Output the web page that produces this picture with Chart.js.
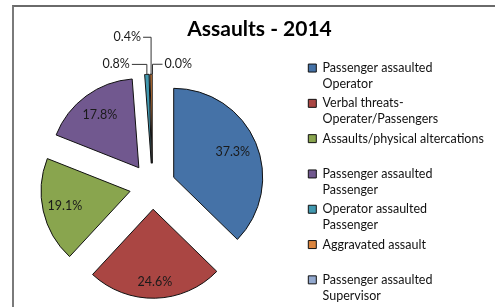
<!DOCTYPE html>
<html>
<head>
<meta charset="utf-8">
<script src="https://cdn.jsdelivr.net/npm/chart.js@4"></script>
<style>
  html, body { margin: 0; padding: 0; background: #fff; overflow: hidden; }
  #frame {
    position: absolute; left: 12px; top: 5px; width: 520px; height: 320px;
    border-top: 2px solid #6a6a6a; border-left: 2px solid #7a7a7a;
  }
  #wrap { position: absolute; left: 0; top: 0; width: 522px; height: 314px; }
</style>
</head>
<body>
<div id="frame"></div>
<div id="wrap"><canvas id="pie-chart"></canvas></div>
<script>
const categories = [
    ["Passenger assaulted", "Operator"],
    ["Verbal threats-", "Operater/Passengers"],
    ["Assaults/physical altercations", ""],
    ["Passenger assaulted", "Passenger"],
    ["Operator assaulted", "Passenger"],
    ["Aggravated assault", ""],
    ["Passenger assaulted", "Supervisor"],
];
const shares = [37.3, 24.6, 19.1, 17.8, 0.8, 0.4, 0.0];
const colors = ["#4572a7", "#aa4643", "#89a54e", "#71588f", "#4198af", "#db843d", "#93a9cf"];

const explode = 23;

// pull every slice away from the centre, like the exploded excel pie
const explodePlugin = {
    id: "explode",
    beforeDatasetDraw(chart, args) {
        const ctx = chart.ctx;
        args.meta.data.forEach((arc) => {
            const mid = (arc.startAngle + arc.endAngle) / 2;
            ctx.save();
            ctx.translate(Math.cos(mid) * explode, Math.sin(mid) * explode);
            arc.draw(ctx, chart.chartArea);
            ctx.restore();
        });
        return false;
    },
};

// percentage labels, with leader lines for the thin slices
const labelPlugin = {
    id: "pctLabels",
    afterDatasetsDraw(chart) {
        const ctx = chart.ctx;
        const meta = chart.getDatasetMeta(0);
        const inside = [0.72, 0.82, 0.75, 0.74];
        const leaders = {
            4: { dx: -13, dy: -10, align: "right" },
            5: { dx: -6, dy: -37, align: "right" },
            6: { dx: 8, dy: -10, align: "left" },
        };
        ctx.save();
        ctx.font = "12.5px Lato";
        ctx.fillStyle = "#1a1a1a";
        ctx.textBaseline = "middle";
        meta.data.forEach((arc, i) => {
            const mid = (arc.startAngle + arc.endAngle) / 2;
            const cx = arc.x + Math.cos(mid) * explode;
            const cy = arc.y + Math.sin(mid) * explode;
            const r = arc.outerRadius;
            const text = shares[i].toFixed(1) + "%";
            if (i < inside.length) {
                ctx.textAlign = "center";
                ctx.fillText(text, cx + Math.cos(mid) * r * inside[i], cy + Math.sin(mid) * r * inside[i]);
                return;
            }
            const l = leaders[i];
            const px = cx + Math.cos(mid) * r;
            const py = cy + Math.sin(mid) * r;
            const ey = py + l.dy;
            const tx = px + l.dx;
            ctx.strokeStyle = "#333";
            ctx.lineWidth = 1;
            ctx.beginPath();
            ctx.moveTo(px, py);
            ctx.lineTo(px, ey);
            ctx.lineTo(tx + (l.align === "right" ? -2 : 2), ey);
            ctx.stroke();
            ctx.textAlign = l.align;
            ctx.fillText(text, tx + (l.align === "right" ? -4 : 4), ey);
        });
        ctx.restore();
    },
};

// the excel legend sits further right than chart.js would put it
const legendWidthPlugin = {
    id: "legendWidth",
    beforeInit(chart) {
        const fit = chart.legend.fit;
        chart.legend.fit = function () {
            fit.call(this);
            this.width = 217;
        };
    },
};

const ctx = document.getElementById("pie-chart");

let chart = new Chart(ctx, {
    type: "pie",
    data: {
        labels: categories,
        datasets: [
            {
                data: shares,
                backgroundColor: colors,
                borderColor: "#111",
                borderWidth: 1,
            },
        ],
    },
    options: {
        responsive: true,
        maintainAspectRatio: false,
        animation: false,
        events: [],
        radius: 89,
        layout: {
            padding: { left: -3, right: 0, top: 0, bottom: 0 },
        },
        plugins: {
            title: {
                display: true,
                text: "Assaults - 2014",
                color: "#000",
                font: { family: "Lato", size: 21, weight: "bold", lineHeight: 1.2 },
                padding: { top: 16.4, bottom: 16.9 },
            },
            legend: {
                position: "right",
                align: "start",
                fullSize: false,
                labels: {
                    color: "#111",
                    boxWidth: 8,
                    boxHeight: 8,
                    padding: 3.3,
                    font: { family: "Lato", size: 12.5, lineHeight: 16 / 12.5 },
                },
            },
            tooltip: { enabled: false },
        },
    },
    plugins: [explodePlugin, labelPlugin, legendWidthPlugin],
});
</script>
</body>
</html>
